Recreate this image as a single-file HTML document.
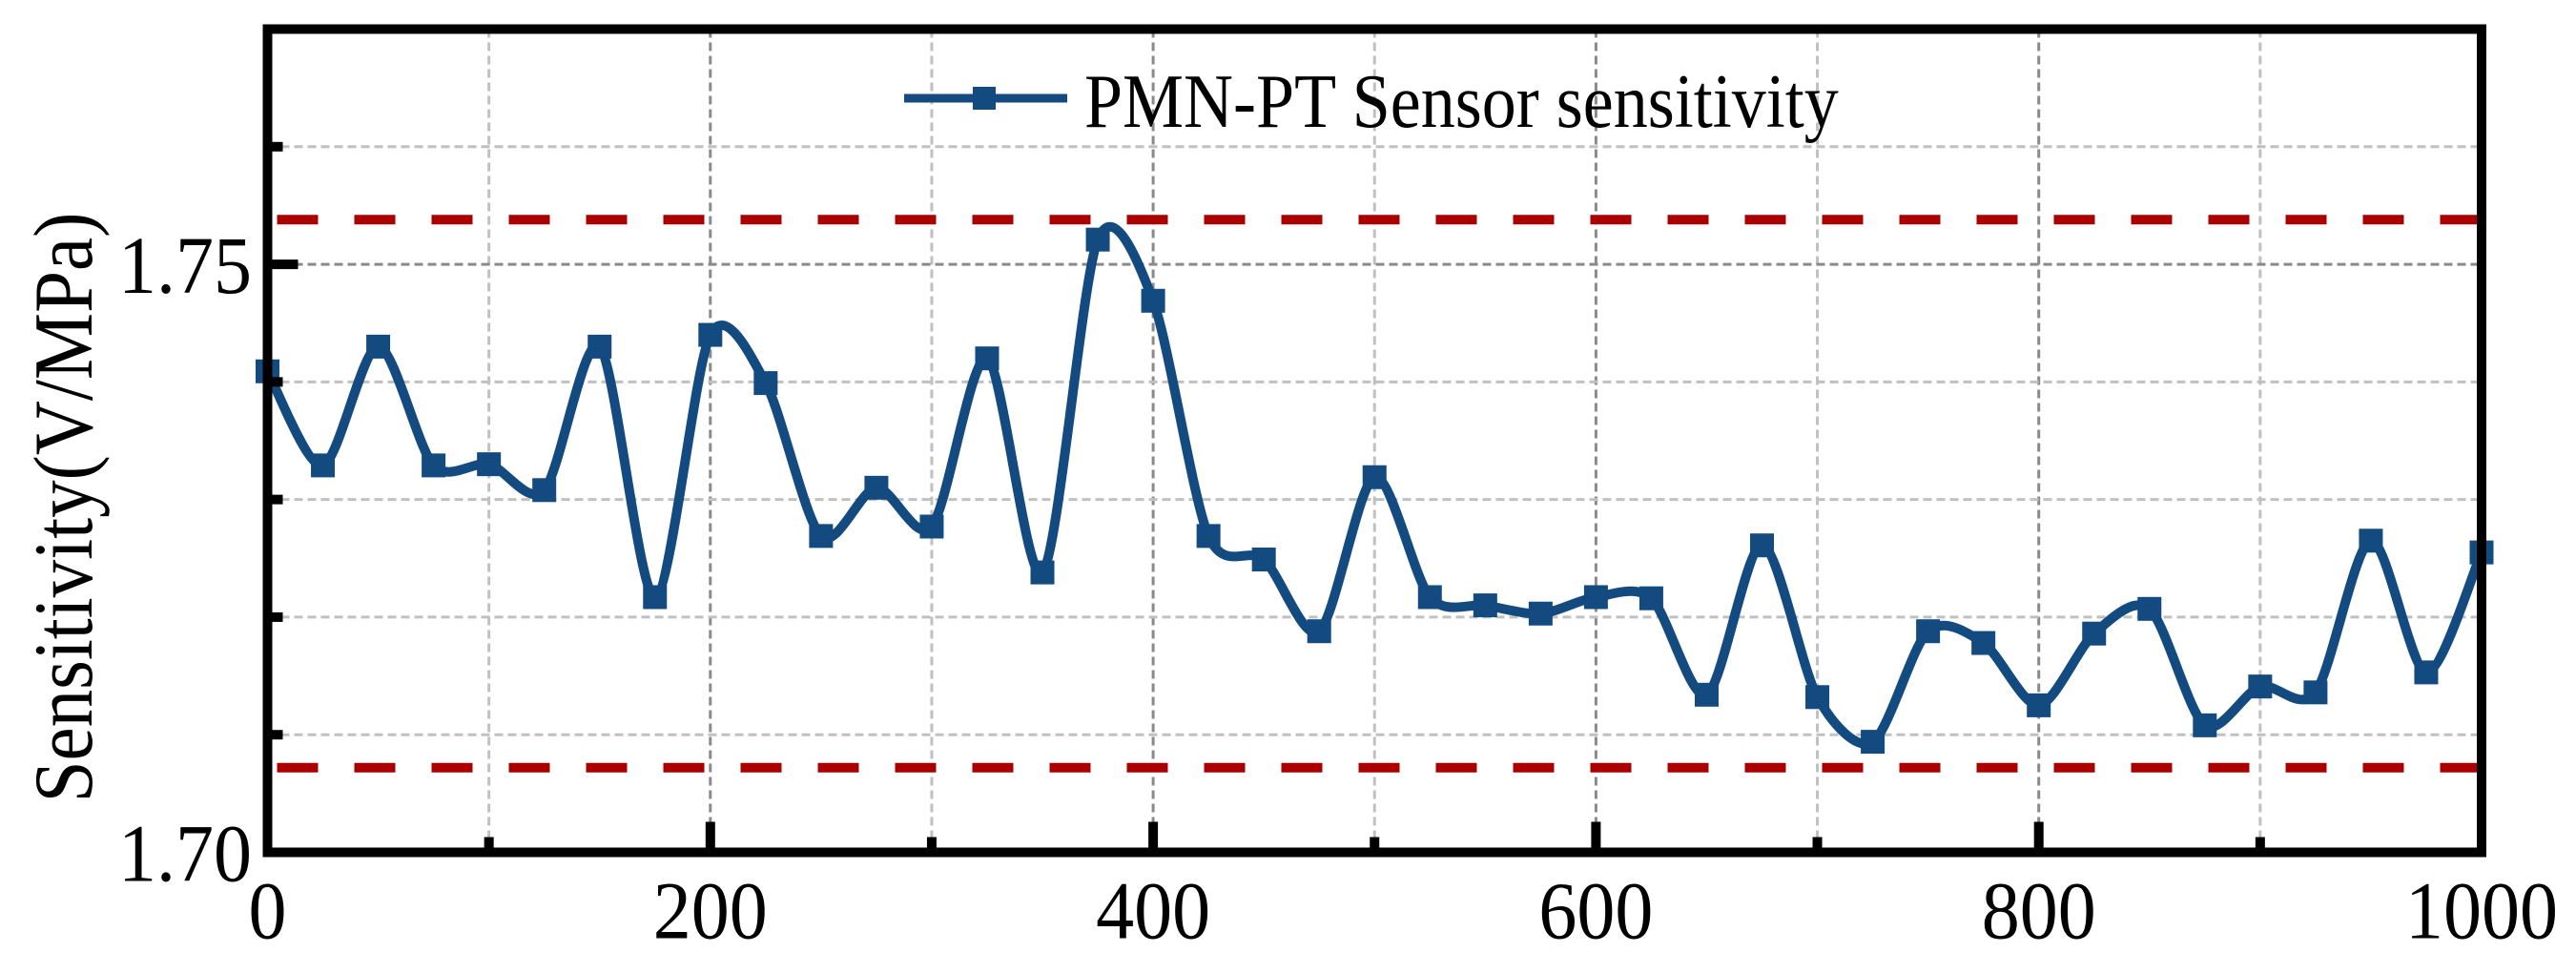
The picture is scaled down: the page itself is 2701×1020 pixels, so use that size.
<!DOCTYPE html>
<html><head><meta charset="utf-8"><style>
html,body{margin:0;padding:0;background:#fff;}
svg{display:block;}
text{font-family:"Liberation Serif","Times New Roman",serif;fill:#000;}
</style></head><body>
<svg id="chart" width="2701" height="1020" viewBox="0 0 2701 1020" xmlns="http://www.w3.org/2000/svg">
<g id="grid"></g>
<g id="limits"></g>
<g id="series"></g>
<g id="axes"></g>
<g id="legend"></g>
<text x="0" y="0" font-size="79" text-anchor="middle" transform="translate(96,532) rotate(-90) scale(1,1.12)">Sensitivity(V/MPa)</text>
</svg>
<script>
const xValues = [0,25,50,75,100,125,150,175,200,225,250,275,300,325,350,375,400,425,450,475,500,525,550,575,600,625,650,675,700,725,750,775,800,825,850,875,900,925,950,975,1000];
const sensitivity = [1.7409,1.7329,1.7430,1.7329,1.7330,1.7308,1.7430,1.7217,1.7440,1.7399,1.7269,1.7310,1.7277,1.7420,1.7238,1.7521,1.7469,1.7269,1.7249,1.7188,1.7319,1.7217,1.7210,1.7203,1.7217,1.7216,1.7134,1.7261,1.7132,1.7094,1.7188,1.7178,1.7125,1.7186,1.7207,1.7108,1.7141,1.7136,1.7265,1.7153,1.7255];
const limitValues = [1.7538,1.7072];
const xTicks = [0,200,400,600,800,1000];
const xMinorTicks = [100,300,500,700,900];
const yTicks = [1.70,1.75];
const yTickLabels = ["1.70","1.75"];
const yMinorTicks = [1.71,1.72,1.73,1.74,1.76];
const legendLabel = "PMN-PT Sensor sensitivity";

const NS="http://www.w3.org/2000/svg";
const X0=280.5,X1=2602,Y0=893.5,Y1=30.5;
const xMin=0,xMax=1000,yMin=1.70,yMax=1.77;
function sx(v){return X0+(v-xMin)/(xMax-xMin)*(X1-X0);}
function sy(v){return Y0-(v-yMin)/(yMax-yMin)*(Y0-Y1);}
function mk(tag,attrs,parent){const e=document.createElementNS(NS,tag);for(const k in attrs)e.setAttribute(k,attrs[k]);parent.appendChild(e);return e;}
const grid=document.getElementById('grid'),limits=document.getElementById('limits'),series=document.getElementById('series'),axes=document.getElementById('axes'),legend=document.getElementById('legend');

xMinorTicks.concat(xTicks.filter(v=>v>xMin&&v<xMax)).forEach(v=>{
  const major=xTicks.includes(v);
  const l=mk('line',{x1:sx(v),x2:sx(v),y1:Y1,y2:Y0,stroke:major?'#8a8a8a':'#c0c0c0','stroke-width':3,'stroke-dasharray':'9 5'},grid);
  
  
});
yMinorTicks.concat(yTicks.filter(v=>v>yMin)).forEach(v=>{
  const major=yTicks.includes(v);
  const l=mk('line',{x1:X0,x2:X1,y1:sy(v),y2:sy(v),stroke:major?'#8a8a8a':'#c0c0c0','stroke-width':3,'stroke-dasharray':'9 5'},grid);
  
  
});
limitValues.forEach((v,i)=>{
  const l=mk('line',{x1:X0+10,x2:X1,y1:sy(v),y2:sy(v),stroke:'#ac0000','stroke-width':10,'stroke-dasharray':'43 38'},limits);
  
  
});
const pts=xValues.map((x,i)=>[sx(x),sy(sensitivity[i])]);
let d='M'+pts[0][0]+','+pts[0][1];
const k=7;
for(let i=0;i<pts.length-1;i++){
  const p0=pts[i-1]||pts[i],p1=pts[i],p2=pts[i+1],p3=pts[i+2]||pts[i+1];
  const c1=[p1[0]+(p2[0]-p0[0])/k,p1[1]+(p2[1]-p0[1])/k];
  const c2=[p2[0]-(p3[0]-p1[0])/k,p2[1]-(p3[1]-p1[1])/k];
  d+=' C'+c1[0]+','+c1[1]+' '+c2[0]+','+c2[1]+' '+p2[0]+','+p2[1];
}
const path=mk('path',{d:d,fill:'none',stroke:'#134a80','stroke-width':10,'stroke-linejoin':'round'},series);


pts.forEach(p=>{
  const r=mk('rect',{x:p[0]-12.5,y:p[1]-12.5,width:25,height:25,fill:'#134a80'},series);
  
  
});
const frame=mk('rect',{x:X0,y:Y1,width:X1-X0,height:Y0-Y1,fill:'none',stroke:'#000','stroke-width':10},axes);


xTicks.forEach(v=>{
  const t=mk('line',{x1:sx(v),x2:sx(v),y1:Y0,y2:Y0-32,stroke:'#000','stroke-width':10},axes);
  
  
  const lb=mk('text',{x:0,y:0,'font-size':80,'text-anchor':'middle',transform:'translate('+sx(v)+','+(Y0+90)+') scale(1,1.07)'},axes);
  lb.textContent=String(v);
  
  
});
xMinorTicks.forEach(v=>{
  const t=mk('line',{x1:sx(v),x2:sx(v),y1:Y0,y2:Y0-16,stroke:'#000','stroke-width':10},axes);
  
  
});
yTicks.forEach((v,i)=>{
  const t=mk('line',{x1:X0,x2:X0+32,y1:sy(v),y2:sy(v),stroke:'#000','stroke-width':10},axes);
  
  
  const lb=mk('text',{x:0,y:0,'font-size':80,'text-anchor':'end',transform:'translate(264,'+(sy(v)+30)+') scale(1,1.07)'},axes);
  lb.textContent=yTickLabels[i];
  
  
});
yMinorTicks.forEach(v=>{
  const t=mk('line',{x1:X0,x2:X0+16,y1:sy(v),y2:sy(v),stroke:'#000','stroke-width':10},axes);
  
  
});
const ll=mk('line',{x1:948,x2:1119,y1:103,y2:103,stroke:'#134a80','stroke-width':9},legend);


const lm=mk('rect',{x:1020,y:91,width:24,height:24,fill:'#134a80'},legend);


const lt=mk('text',{x:0,y:0,'font-size':72,transform:'translate(1137,133) scale(1,1.12)'},legend);
lt.textContent=legendLabel;


</script>
</body></html>
